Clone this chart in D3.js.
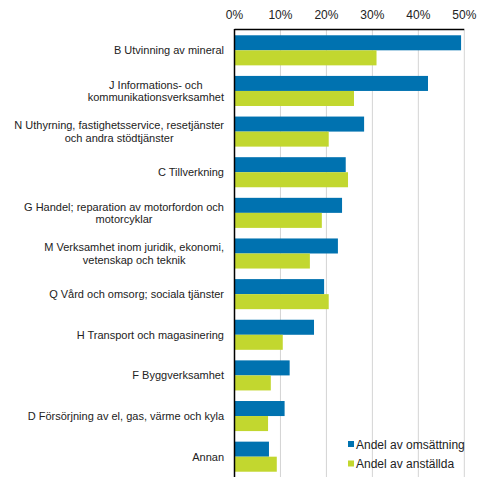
<!DOCTYPE html>
<html>
<head>
<meta charset="utf-8">
<script src="https://cdn.jsdelivr.net/npm/d3@7"></script>
<style>
  body { margin: 0; background: #fff; }
  svg { font-family: "Liberation Sans", Arial, sans-serif; }
</style>
</head>
<body>
<svg id="chart" width="491" height="491"></svg>
<script>
const categories = [
  "B Utvinning av mineral",
  "J Informations- och\nkommunikationsverksamhet",
  "N Uthyrning, fastighetsservice, resetjänster\noch andra stödtjänster",
  "C Tillverkning",
  "G Handel; reparation av motorfordon och\nmotorcyklar",
  "M Verksamhet inom juridik, ekonomi,\nvetenskap och teknik",
  "Q Vård och omsorg; sociala tjänster",
  "H Transport och magasinering",
  "F Byggverksamhet",
  "D Försörjning av el, gas, värme och kyla",
  "Annan"
];
const omsattning = [0.493, 0.421, 0.282, 0.242, 0.234, 0.225, 0.195, 0.173, 0.120, 0.109, 0.075];
const anstallda  = [0.309, 0.260, 0.205, 0.247, 0.190, 0.164, 0.205, 0.105, 0.079, 0.073, 0.092];
const seriesNames = ["Andel av omsättning", "Andel av anställda"];
const colors = ["#0072b0", "#c2d72f"];
const xTicks = [0, 0.1, 0.2, 0.3, 0.4, 0.5];

const svg = d3.select("#chart");

const margin = { top: 30, left: 234.5, right: 26.7, bottom: 14 };
const width = 491, height = 491;

const xScale = d3.scaleLinear()
  .domain([0, 0.5])
  .range([margin.left, width - margin.right]);

const yScale = d3.scaleBand()
  .domain(categories)
  .range([margin.top, height - margin.bottom])
  .paddingInner(0.26)
  .paddingOuter(0.13);

const subScale = d3.scaleBand()
  .domain([0, 1])
  .range([0, yScale.bandwidth()]);

// Gridlines
svg.append("g")
  .selectAll("line")
  .data(xTicks.slice(1))
  .join("line")
    .attr("x1", d => xScale(d))
    .attr("x2", d => xScale(d))
    .attr("y1", margin.top)
    .attr("y2", height - margin.bottom)
    .attr("stroke", "#d4d4d4")
    .attr("stroke-width", 1);

// Tick labels
svg.append("g")
  .selectAll("text")
  .data(xTicks)
  .join("text")
    .attr("x", d => xScale(d))
    .attr("y", 19)
    .attr("text-anchor", "middle")
    .attr("font-size", 12)
    .attr("fill", "#222")
    .text(d => d3.format(".0%")(d));

// Bars
const rows = categories.map((c, i) => ({ cat: c, values: [omsattning[i], anstallda[i]] }));

const groups = svg.append("g")
  .selectAll("g")
  .data(rows)
  .join("g")
    .attr("transform", d => `translate(0,${yScale(d.cat)})`);

groups.selectAll("rect")
  .data(d => d.values.map((v, k) => ({ v, k })))
  .join("rect")
    .attr("x", xScale(0))
    .attr("y", d => subScale(d.k))
    .attr("width", d => xScale(d.v) - xScale(0))
    .attr("height", subScale.bandwidth())
    .attr("fill", d => colors[d.k]);

// Axis lines
svg.append("line")
  .attr("x1", xScale(0)).attr("x2", xScale(0.5))
  .attr("y1", margin.top - 0.5).attr("y2", margin.top - 0.5)
  .attr("stroke", "#000").attr("stroke-width", 1.5);
svg.append("line")
  .attr("x1", xScale(0)).attr("x2", xScale(0))
  .attr("y1", margin.top - 1).attr("y2", height - margin.bottom)
  .attr("stroke", "#000").attr("stroke-width", 1.5);

// Category labels (lines centred, block right-aligned)
const labelRight = 224;
const lineHeight = 12.5;
const labels = svg.append("g")
  .selectAll("text")
  .data(categories)
  .join("text")
    .attr("font-size", 11)
    .attr("fill", "#222")
    .attr("text-anchor", "middle");

labels.each(function(d) {
  const lines = d.split("\n");
  const el = d3.select(this);
  const cy = yScale(d) + yScale.bandwidth() / 2;
  lines.forEach((ln, i) => {
    el.append("tspan")
      .attr("y", cy + (i - (lines.length - 1) / 2) * lineHeight + 4)
      .text(ln);
  });
  let maxW = 0;
  el.selectAll("tspan").each(function() {
    maxW = Math.max(maxW, this.getComputedTextLength());
  });
  el.selectAll("tspan").attr("x", labelRight - maxW / 2);
});

// Legend
const legend = svg.append("g")
  .selectAll("g")
  .data(seriesNames)
  .join("g")
    .attr("transform", (d, i) => `translate(348,${441 + i * 19.5})`);

legend.append("rect")
  .attr("width", 6)
  .attr("height", 6)
  .attr("fill", (d, i) => colors[i]);

legend.append("text")
  .attr("x", 8)
  .attr("y", 7.5)
  .attr("font-size", 12)
  .attr("fill", "#222")
  .text(d => d);
</script>
</body>
</html>
